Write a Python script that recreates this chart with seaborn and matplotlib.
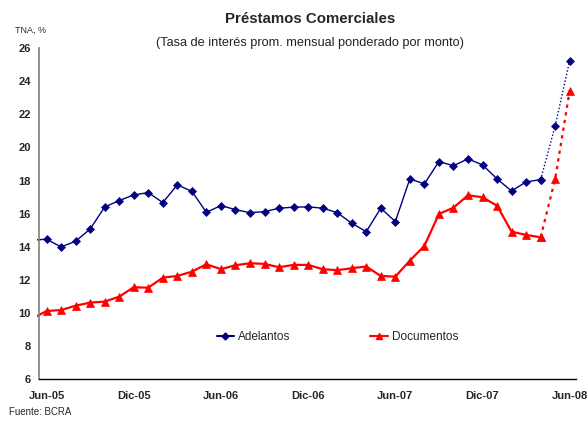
"""
Préstamos Comerciales: tasas de Adelantos y Documentos (Jun-05 a Jun-08).
"""

import matplotlib

matplotlib.use("Agg")

import matplotlib.pyplot as plt
import pandas as pd
import seaborn as sns
from matplotlib.lines import Line2D
from matplotlib.patches import Rectangle

# meses desde May-05 (fuera del gráfico) hasta Jun-08
month_names = ["Ene", "Feb", "Mar", "Abr", "May", "Jun",
               "Jul", "Ago", "Sep", "Oct", "Nov", "Dic"]
months = [f"{m}-{y:02d}" for y in range(5, 9) for m in month_names]
months = months[months.index("May-05"):months.index("Jun-08") + 1]

adelantos = [
    14.4,
    14.45, 13.99, 14.33, 15.07, 16.40, 16.79, 17.13, 17.27, 16.67, 17.74,
    17.35, 16.08, 16.49, 16.24, 16.06, 16.12, 16.33, 16.39, 16.41, 16.33,
    16.06, 15.42, 14.91, 16.33, 15.52, 18.10, 17.80, 19.15, 18.90, 19.31,
    18.95, 18.10, 17.37, 17.92, 18.06, 21.31, 25.26,
]
documentos = [
    9.65,
    10.11, 10.17, 10.43, 10.62, 10.68, 10.98, 11.55, 11.52, 12.13, 12.23,
    12.49, 12.94, 12.64, 12.88, 13.00, 12.96, 12.76, 12.90, 12.90, 12.64,
    12.58, 12.70, 12.80, 12.23, 12.19, 13.16, 14.05, 15.98, 16.36, 17.11,
    16.99, 16.48, 14.91, 14.71, 14.57, 18.10, 23.44,
]
label_months = ["Jun-05", "Dic-05", "Jun-06", "Dic-06",
                "Jun-07", "Dic-07", "Jun-08"]
last_solid = "Abr-08"

BLUE = "#000080"
RED = "#FF0000"

sns.set_style("white")
plt.rcParams["font.family"] = ["Liberation Sans", "DejaVu Sans"]

df = pd.DataFrame({"mes": months, "Adelantos": adelantos,
                   "Documentos": documentos})
df["x"] = [months.index(m) - months.index("Jun-05") for m in months]
cut = df["x"][df["mes"] == last_solid].iloc[0]
solid = df[df["x"] <= cut]
dotted = df[df["x"] >= cut]

fig = plt.figure(figsize=(5.88, 4.21), dpi=100)
ax = fig.add_axes([0.0668, 0.0998, 0.9132, 0.7855])

styles = {
    "Adelantos": dict(color=BLUE, marker="D", markersize=4.3, lw=1.0,
                      dots=(0, (1, 1.5))),
    "Documentos": dict(color=RED, marker="^", markersize=5.5, lw=1.6,
                       dots=(0, (1.5, 2))),
}
for col, st in styles.items():
    sns.lineplot(data=solid, x="x", y=col, ax=ax, color=st["color"],
                 lw=st["lw"], marker=st["marker"], markersize=st["markersize"],
                 markeredgecolor=st["color"], markeredgewidth=0.5)
    sns.lineplot(data=dotted, x="x", y=col, ax=ax, color=st["color"],
                 lw=st["lw"], linestyle=st["dots"], marker=st["marker"],
                 markersize=st["markersize"], markeredgecolor=st["color"],
                 markeredgewidth=0.5)

# lines reach slightly past the left axis, as in the original
clip = Rectangle((-0.65, 0), 40, 40, transform=ax.transData)
for line in ax.get_lines():
    line.set_clip_path(clip)

ax.set_xlim(-0.5, 36.45)
ax.set_ylim(6, 26)
ax.set_xlabel("")
ax.set_ylabel("")

label_pos = [months.index(m) - months.index("Jun-05") for m in label_months]
ax.set_xticks(label_pos)
ax.set_xticklabels(label_months, fontsize=8, fontweight="bold")
ax.set_xticks([p - 0.5 for p in label_pos], minor=True)
ax.tick_params(axis="x", which="major", length=0, pad=9)
ax.tick_params(axis="x", which="minor", direction="in", length=3,
               color="#555555", width=0.8)
ax.set_yticks(range(6, 27, 2))
ax.tick_params(axis="y", direction="in", length=4, color="#555555",
               width=0.8, labelsize=8, pad=6)
for t in ax.get_yticklabels():
    t.set_fontweight("bold")

sns.despine(ax=ax)
ax.spines["left"].set_color("#808080")
ax.spines["left"].set_linewidth(1.2)
ax.spines["bottom"].set_color("black")
ax.spines["bottom"].set_linewidth(1.0)

handles = [
    Line2D([], [], color=BLUE, lw=1.5, marker="D", markersize=3.5),
    Line2D([], [], color=RED, lw=1.5, marker="^", markersize=4.5),
]
ax.legend(handles, ["Adelantos", "Documentos"], ncol=2, frameon=False,
          loc="center", bbox_to_anchor=(0.555, 0.127), fontsize=8.5,
          columnspacing=6.8, handlelength=1.5, handletextpad=0.3)

fig.text(0.527, 0.955, "Préstamos Comerciales", ha="center", va="center",
         fontsize=10.8, fontweight="bold")
fig.text(0.528, 0.898, "(Tasa de interés prom. mensual ponderado por monto)",
         ha="center", va="center", fontsize=9.2, color="#222222")
fig.text(0.026, 0.928, "TNA, %", ha="left", va="center", fontsize=6.5)
fig.text(0.015, 0.022, "Fuente: BCRA", ha="left", va="center", fontsize=7)

fig.savefig("out.png", dpi=100)
